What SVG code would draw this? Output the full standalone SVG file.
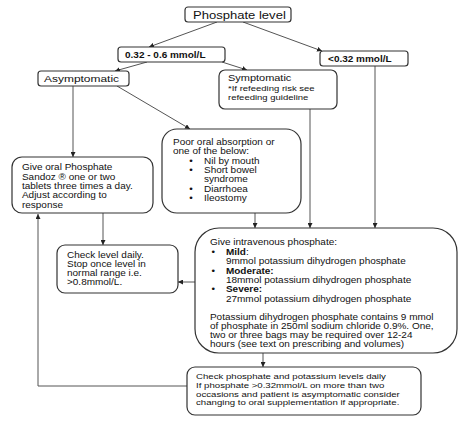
<svg xmlns="http://www.w3.org/2000/svg" width="474" height="421" viewBox="0 0 474 421">
<defs>
<marker id="ah" viewBox="0 0 10 10" refX="10" refY="5" markerWidth="5" markerHeight="5" markerUnits="userSpaceOnUse" orient="auto">
<path d="M0,0 L10,5 L0,10 z" fill="#222"/>
</marker>
<style>
.box{fill:#fff;stroke:#333;stroke-width:1.2}
.ln{fill:none;stroke:#555;stroke-width:1;marker-end:url(#ah)}
text{font-family:"Liberation Sans",Arial,sans-serif;font-size:8.2px;fill:#111}
.b{font-weight:bold}
</style>
</defs>
<rect width="474" height="421" fill="#fff"/>
<g id="connectors">
<line class="ln" x1="217" y1="22" x2="149" y2="47"/>
<line class="ln" x1="243" y1="22" x2="322" y2="51"/>
<line class="ln" x1="147" y1="62" x2="115" y2="71"/>
<line class="ln" x1="222" y1="62" x2="247" y2="70"/>
<line class="ln" x1="73" y1="86" x2="73" y2="157"/>
<line class="ln" x1="117" y1="86" x2="190" y2="129"/>
<line class="ln" x1="310" y1="109" x2="310" y2="228"/>
<line class="ln" x1="375" y1="66" x2="375" y2="228"/>
<line class="ln" x1="255" y1="213" x2="255" y2="228"/>
<line class="ln" x1="103" y1="213" x2="103" y2="245"/>
<line class="ln" x1="195" y1="282" x2="178" y2="282"/>
<line class="ln" x1="263" y1="353" x2="263" y2="367"/>
<polyline class="ln" points="187,386 38,386 38,214"/>
</g>
<g id="phosphate-level">
<rect class="box" x="185" y="7" width="106" height="15" rx="3"/>
<g transform="scale(1.22,1)"><text x="158.2" y="19" style="font-size:10.7px">Phosphate level</text></g>
</g>
<g id="range-mid">
<rect class="box" x="118" y="47" width="107" height="15" rx="3"/>
<g transform="scale(1.22,1)"><text class="b" x="102.5" y="58.5">0.32 - 0.6 mmol/L</text></g>
</g>
<g id="range-low">
<rect class="box" x="320" y="51" width="88" height="15" rx="3"/>
<g transform="scale(1.22,1)"><text class="b" x="268.9" y="62">&lt;0.32 mmol/L</text></g>
</g>
<g id="asymptomatic">
<rect class="box" x="38" y="71" width="91" height="15" rx="3"/>
<g transform="scale(1.22,1)"><text x="36.1" y="82" style="font-size:9.8px">Asymptomatic</text></g>
</g>
<g id="symptomatic">
<rect class="box" x="219" y="70" width="118" height="39" rx="6"/>
<g transform="scale(1.22,1)">
<text x="186.9" y="81.5" style="font-size:9px">Symptomatic</text>
<text x="186.9" y="91" style="font-size:7.8px">*If refeeding risk see</text>
<text x="186.9" y="100" style="font-size:7.8px">refeeding guideline</text>
</g>
</g>
<g id="oral">
<rect class="box" x="12" y="157" width="141" height="56" rx="10"/>
<g transform="scale(1.22,1)">
<text x="18" y="170.5">Give oral Phosphate</text>
<text x="18" y="179.8">Sandoz ® one or two</text>
<text x="18" y="189.1">tablets three times a day.</text>
<text x="18" y="198.4">Adjust according to</text>
<text x="18" y="207.7">response</text>
</g>
</g>
<g id="poor-oral">
<rect class="box" x="162" y="129" width="139" height="84" rx="15"/>
<g transform="scale(1.22,1)">
<text x="141.8" y="145">Poor oral absorption or</text>
<text x="141.8" y="154.5">one of the below:</text>
<text x="155.2" y="164">•</text><text x="167.2" y="164">Nil by mouth</text>
<text x="155.2" y="173.3">•</text><text x="167.2" y="173.3">Short bowel</text>
<text x="167.2" y="182.5">syndrome</text>
<text x="155.2" y="191.8">•</text><text x="167.2" y="191.8">Diarrhoea</text>
<text x="155.2" y="201.1">•</text><text x="167.2" y="201.1">Ileostomy</text>
</g>
</g>
<g id="check-level">
<rect class="box" x="57" y="245" width="121" height="48" rx="8"/>
<g transform="scale(1.22,1)">
<text x="54.9" y="258">Check level daily.</text>
<text x="54.9" y="267">Stop once level in</text>
<text x="54.9" y="276">normal range i.e.</text>
<text x="54.9" y="285">&gt;0.8mmol/L.</text>
</g>
</g>
<g id="iv">
<rect class="box" x="195" y="228" width="262" height="125" rx="24"/>
<g transform="scale(1.22,1)">
<text x="172.1" y="245.5">Give intravenous phosphate:</text>
<text x="173.4" y="255">•</text><text x="185.2" y="255"><tspan class="b">Mild</tspan>:</text>
<text x="185.2" y="264.5">9mmol potassium dihydrogen phosphate</text>
<text x="173.4" y="273.8">•</text><text class="b" x="185.2" y="273.8">Moderate:</text>
<text x="185.2" y="283.1">18mmol potassium dihydrogen phosphate</text>
<text x="173.4" y="292.4">•</text><text class="b" x="185.2" y="292.4">Severe:</text>
<text x="185.2" y="301.8">27mmol potassium dihydrogen phosphate</text>
<text x="172.1" y="319.8">Potassium dihydrogen phosphate contains 9 mmol</text>
<text x="172.1" y="328.9">of phosphate in 250ml sodium chloride 0.9%.  One,</text>
<text x="172.1" y="338">two or three bags may be required over 12-24</text>
<text x="172.1" y="347.1">hours (see text on prescribing and volumes)</text>
</g>
</g>
<g id="final-check">
<rect class="box" x="187" y="367" width="234" height="48" rx="8"/>
<g transform="scale(1.22,1)">
<text x="160.7" y="379" style="font-size:7.9px">Check phosphate and potassium levels daily</text>
<text x="160.7" y="387.8" style="font-size:7.9px">If phosphate &gt;0.32mmol/L on more than two</text>
<text x="160.7" y="396.6" style="font-size:7.9px">occasions and patient is asymptomatic consider</text>
<text x="160.7" y="405.4" style="font-size:7.9px">changing to oral supplementation if appropriate.</text>
</g>
</g>
</svg>
